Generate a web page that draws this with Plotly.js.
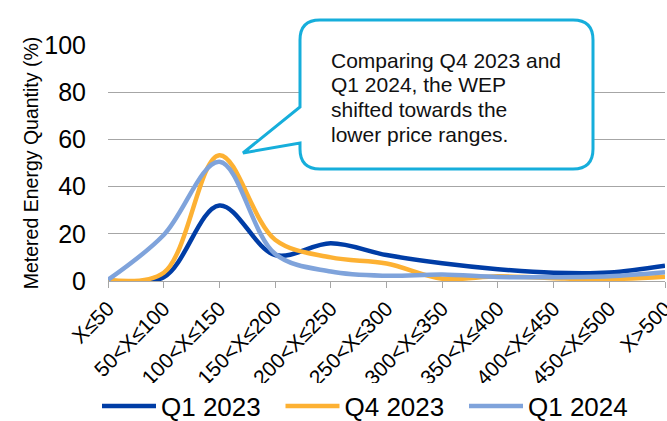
<!DOCTYPE html>
<html>
<head>
<meta charset="utf-8">
<script src="https://cdn.plot.ly/plotly-3.0.1.min.js"></script>
<style>
  html, body { margin: 0; padding: 0; background: #fff; }
  #chart { width: 667px; height: 421px; }
</style>
</head>
<body>
<div id="chart"></div>
<script>
// Wholesale electricity price bands (PHP/MWh)
const priceBands = ['X≤50', '50<X≤100', '100<X≤150', '150<X≤200', '200<X≤250', '250<X≤300',
                    '300<X≤350', '350<X≤400', '400<X≤450', '450<X≤500', 'X>500'];

// Share of metered energy quantity in each band (%)
const q1_2023 = [0.2, 1.6, 32, 11, 16, 11, 7.5, 5, 3.5, 3.6, 6.5];
const q4_2023 = [0.5, 3.5, 53.3, 17.5, 10, 7.4, 1, 2, 1.2, 0.8, 1.8];
const q1_2024 = [0.5, 19.5, 50.5, 11.5, 4, 2.2, 2.8, 1.7, 1.6, 2, 3.7];

const seriesNames = ['Q1 2023', 'Q4 2023', 'Q1 2024'];
const seriesValues = [q1_2023, q4_2023, q1_2024];
const seriesColors = ['#003DA6', '#FDB133', '#7FA3DB'];

const yTicks = [0, 20, 40, 60, 80, 100];

const noteLines = ['Comparing Q4 2023 and', 'Q1 2024, the WEP', 'shifted towards the', 'lower price ranges.'];

const FONT = 'Arial, "Liberation Sans", sans-serif';
const W = 667, H = 421;

// Plot frame in page pixels, used to place the call-out in paper coordinates
const frame = { left: 108, right: 665, top: 45, bottom: 281 };
const toPaper = (x, y) => [
  (x - frame.left) / (frame.right - frame.left),
  (frame.bottom - y) / (frame.bottom - frame.top)
];

// Rounded call-out box with a pointer towards the peak
function calloutPath(l, t, r, b, rad, tailTop, tailBottom, tip) {
  const pts = [
    ['M', [l + rad, t]],
    ['L', [r - rad, t]],
    ['Q', [r, t], [r, t + rad]],
    ['L', [r, b - rad]],
    ['Q', [r, b], [r - rad, b]],
    ['L', [l + rad, b]],
    ['Q', [l, b], [l, b - rad]],
    ['L', [l, tailBottom]],
    ['L', tip],
    ['L', [l, tailTop]],
    ['L', [l, t + rad]],
    ['Q', [l, t], [l + rad, t]]
  ];
  return pts.map(seg => seg[0] + seg.slice(1).map(p => {
    const q = toPaper(p[0], p[1]);
    return q[0].toFixed(5) + ',' + q[1].toFixed(5);
  }).join(' ')).join(' ') + ' Z';
}

const traces = seriesNames.map((name, i) => ({
  type: 'scatter',
  mode: 'lines',
  name: name,
  x: priceBands,
  y: seriesValues[i],
  line: { color: seriesColors[i], width: 4.5, shape: 'spline', smoothing: 1 },
  hoverinfo: 'x+y+name'
}));

const box = { l: 300, t: 20, r: 593, b: 169 };
const noteAnnotations = noteLines.map((line, i) => {
  const p = toPaper(329, 60 + i * 24.7);
  return {
    xref: 'paper', yref: 'paper', x: p[0], y: p[1],
    xanchor: 'left', yanchor: 'middle',
    text: line, showarrow: false,
    font: { family: FONT, size: 21, color: '#111' }
  };
});

const layout = {
  width: W,
  height: H,
  margin: { l: frame.left, r: W - frame.right, t: frame.top, b: H - frame.bottom, autoexpand: false },
  paper_bgcolor: '#fff',
  plot_bgcolor: '#fff',
  font: { family: FONT, color: '#000' },
  showlegend: true,
  legend: {
    orientation: 'h',
    xref: 'container', yref: 'container',
    x: 97 / W, xanchor: 'left',
    y: 1 - 406 / H, yanchor: 'middle',
    font: { family: FONT, size: 26, color: '#000' },
    itemwidth: 54,
    entrywidth: 114.5,
    tracegroupgap: 0
  },
  xaxis: {
    type: 'category',
    range: [0, priceBands.length - 1],
    automargin: false,
    showgrid: false,
    zeroline: false,
    showline: true,
    linecolor: '#A6A6A6',
    linewidth: 1,
    ticks: 'outside',
    ticklen: 6,
    tickcolor: '#A6A6A6',
    tickangle: -45,
    tickfont: { family: FONT, size: 21, color: '#000' }
  },
  yaxis: {
    range: [0, 100],
    automargin: false,
    tickvals: yTicks,
    ticktext: yTicks.map(String),
    showgrid: true,
    gridcolor: '#A6A6A6',
    gridwidth: 1,
    zeroline: false,
    showline: false,
    ticks: '',
    ticklabelstandoff: 21,
    tickfont: { family: FONT, size: 25, color: '#000' },
    title: {
      text: 'Metered Energy Quantity (%)',
      font: { family: FONT, size: 19.5, color: '#000' },
      standoff: 0
    }
  },
  shapes: [{
    type: 'path',
    xref: 'paper', yref: 'paper',
    path: calloutPath(box.l, box.t, box.r, box.b, 20, 107, 143, [243, 153]),
    fillcolor: '#fff',
    line: { color: '#16AEDB', width: 3 },
    layer: 'above'
  }],
  annotations: noteAnnotations
};

Plotly.newPlot('chart', traces, layout, { displayModeBar: false, staticPlot: true });
</script>
</body>
</html>
